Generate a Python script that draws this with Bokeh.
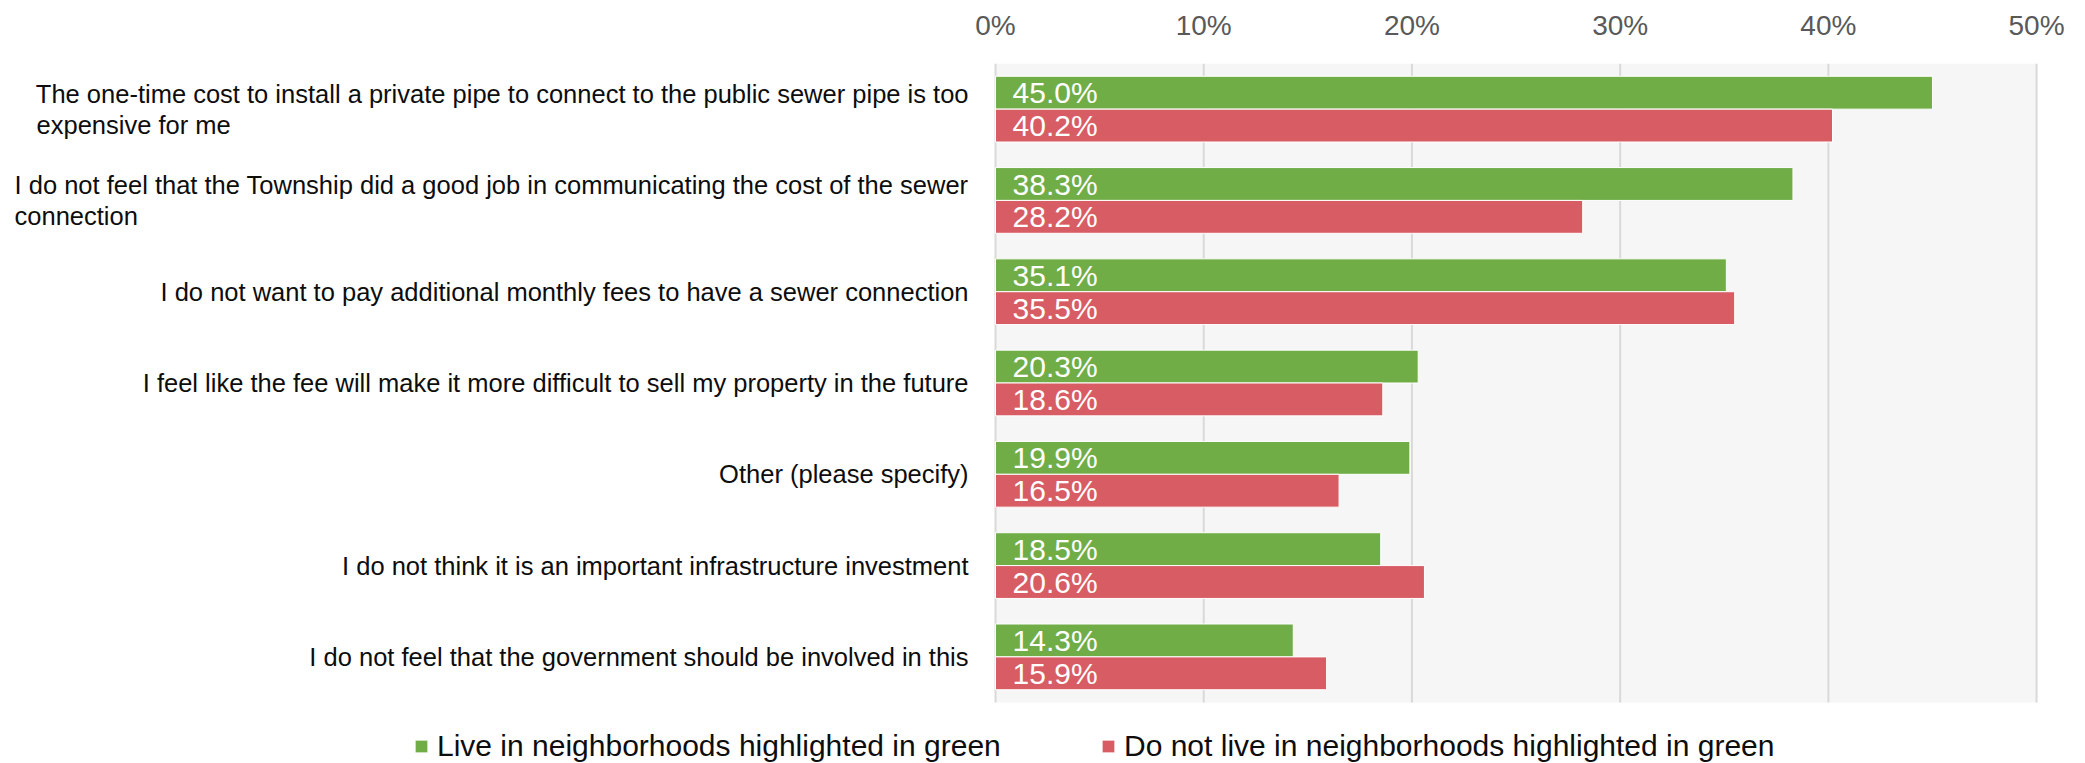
from bokeh.plotting import figure
from bokeh.models import Range1d, FixedTicker, ColumnDataSource, Legend, LegendItem
from bokeh.embed import file_html
from bokeh.resources import INLINE
from bokeh.core.properties import value

# ---------------- data ----------------
categories = [
    "The one-time cost to install a private pipe to connect to the public sewer pipe is too\nexpensive for me",
    "I do not feel that the Township did a good job in communicating the cost of the sewer\nconnection",
    "I do not want to pay additional monthly fees to have a sewer connection",
    "I feel like the fee will make it more difficult to sell my property in the future",
    "Other (please specify)",
    "I do not think it is an important infrastructure investment",
    "I do not feel that the government should be involved in this",
]
live = [45.0, 38.3, 35.1, 20.3, 19.9, 18.5, 14.3]
not_live = [40.2, 28.2, 35.5, 18.6, 16.5, 20.6, 15.9]
series_names = [
    "Live in neighborhoods highlighted in green",
    "Do not live in neighborhoods highlighted in green",
]
x_ticks = [0, 10, 20, 30, 40, 50]
tick_labels = ["0%", "10%", "20%", "30%", "40%", "50%"]

# ---------------- style ----------------
FONT = "Liberation Sans"
GREEN = "#70AD47"
RED = "#D85C63"
BG = "#F6F6F6"
GRID = "#D9D9D9"
BAR_H = 0.36
WRAP_LEFT = {0: -959, 1: -981}   # screen offset (px) of second line of wrapped labels

n = len(categories)
ys = [n - 1 - i for i in range(n)]

src = ColumnDataSource(dict(
    y=ys,
    y_live=[y + BAR_H / 2 for y in ys],
    y_not=[y - BAR_H / 2 for y in ys],
    live=live,
    not_live=not_live,
    live_lbl=[f"{v:.1f}%" for v in live],
    not_lbl=[f"{v:.1f}%" for v in not_live],
))

p = figure(width=2085, height=763,
           x_range=Range1d(-47.79, 52.35), y_range=Range1d(-1.168, n - 0.5),
           x_axis_location="above", y_axis_location=None,
           output_backend="svg", toolbar_location=None,
           min_border_left=0, min_border_right=0, min_border_top=63, min_border_bottom=0)
p.outline_line_color = None
p.xgrid.visible = False
p.ygrid.visible = False
p.background_fill_color = "white"
p.border_fill_color = "white"

ax = p.xaxis[0]
ax.ticker = FixedTicker(ticks=x_ticks)
ax.major_label_overrides = {t: l for t, l in zip(x_ticks, tick_labels)}
ax.axis_line_color = None
ax.major_tick_line_color = None
ax.minor_tick_line_color = None
ax.major_label_text_font = FONT
ax.major_label_text_font_size = "28px"
ax.major_label_text_color = "#595959"
ax.major_label_standoff = 17

# plot-area background and vertical grid lines
p.quad(left=x_ticks[0], right=x_ticks[-1], bottom=-0.5, top=n - 0.5,
       fill_color=BG, line_color=None)
p.segment(x0=x_ticks, y0=-0.5, x1=x_ticks, y1=n - 0.5, line_color=GRID, line_width=2)

# bars
r_live = p.hbar(y="y_live", right="live", left=0, height=BAR_H, source=src,
                fill_color=GREEN, line_color="white", line_width=1)
r_not = p.hbar(y="y_not", right="not_live", left=0, height=BAR_H, source=src,
               fill_color=RED, line_color="white", line_width=1)

# value labels inside bars
for ycol, tcol in [("y_live", "live_lbl"), ("y_not", "not_lbl")]:
    p.text(x=0, y=ycol, text=tcol, source=src, x_offset=17,
           text_align="left", text_baseline="middle", text_color="white",
           text_font=value(FONT), text_font_size="30px")

# category labels
first, first_y, first_off = [], [], []
second, second_y, second_x = [], [], []
for i, c in enumerate(categories):
    parts = c.split("\n")
    first.append(parts[0])
    first_y.append(ys[i])
    first_off.append(-15 if len(parts) > 1 else 0)
    if len(parts) > 1:
        second.append(parts[1])
        second_y.append(ys[i])
        second_x.append(WRAP_LEFT.get(i, -960))

s1 = ColumnDataSource(dict(y=first_y, t=first, yo=first_off))
p.text(x=0, y="y", text="t", y_offset="yo", x_offset=-27, source=s1,
       text_align="right", text_baseline="middle", text_color="#0D0D0D",
       text_font=value(FONT), text_font_size="25.5px")
s2 = ColumnDataSource(dict(y=second_y, t=second, xo=second_x))
p.text(x=0, y="y", text="t", y_offset=16, x_offset="xo", source=s2,
       text_align="left", text_baseline="middle", text_color="#0D0D0D",
       text_font=value(FONT), text_font_size="25.5px")

# legends
for name, r, xloc in [(series_names[0], r_live, 413), (series_names[1], r_not, 1100)]:
    leg = Legend(items=[LegendItem(label=name, renderers=[r])], location=(xloc, 0),
                 orientation="horizontal", glyph_width=16, glyph_height=16,
                 label_standoff=8, padding=0, margin=0, spacing=0,
                 border_line_color=None, background_fill_alpha=0,
                 label_text_font=FONT, label_text_font_size="30px",
                 label_text_color="#0D0D0D", label_height=16)
    p.add_layout(leg)

open("out.html", "w").write(file_html(p, INLINE))
